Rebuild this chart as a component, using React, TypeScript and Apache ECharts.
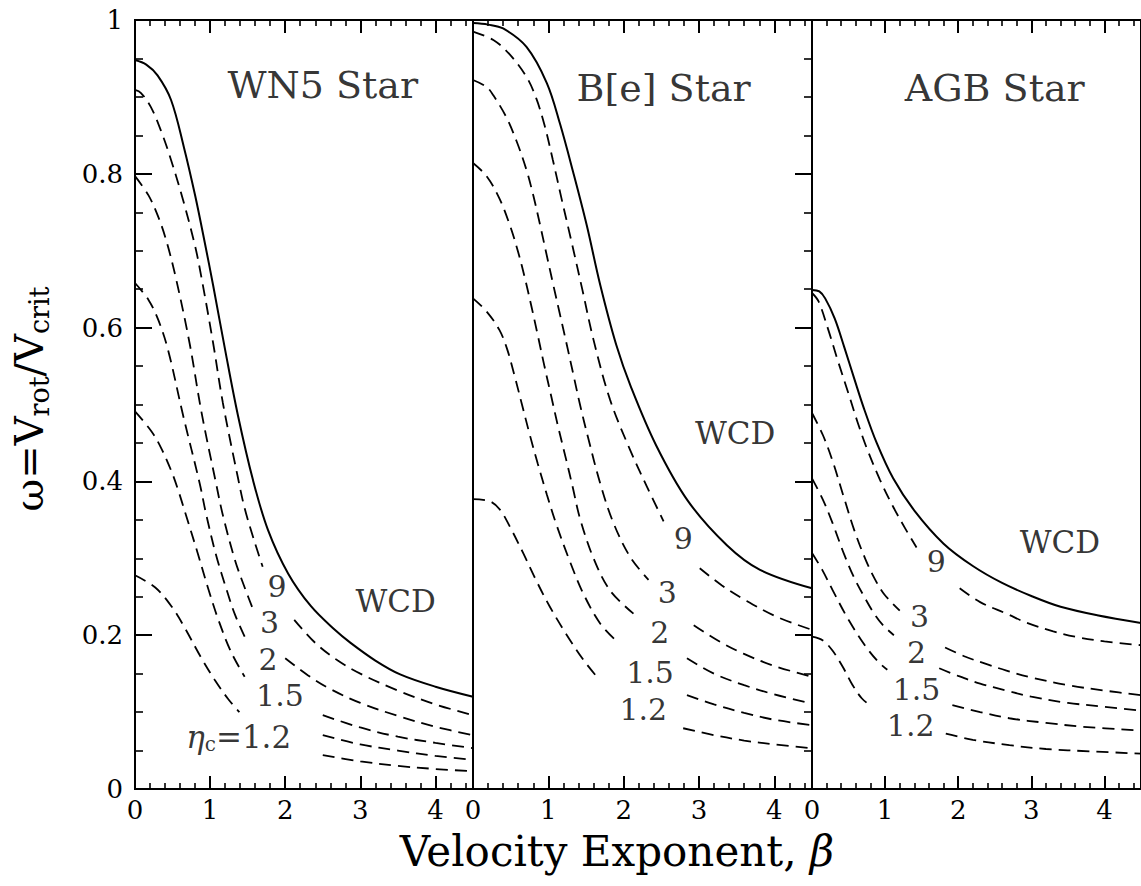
import React, { useEffect, useRef } from "react";
import * as echarts from "echarts";

type Pt = [number, number];

const PANEL_TITLES = ["WN5 Star", "B[e] Star", "AGB Star"];
const ETA_LABELS = ["9", "3", "2", "1.5", "1.2"];
const REGION_LABEL = "WCD";
const X_TICK_LABELS = ["0", "1", "2", "3", "4"];
const Y_TICK_LABELS = ["0", "0.2", "0.4", "0.6", "0.8", "1"];

// ---------- WN5 star ----------
const WN5_WCD: Pt[] = [[0,0.948],[0.15,0.942],[0.3,0.928],[0.48,0.896],[0.65,0.835],[0.8,0.772],[0.93,0.71],[1.04,0.655],[1.2,0.571],[1.37,0.486],[1.57,0.402],[1.77,0.337],[2.04,0.28],[2.34,0.238],[2.66,0.207],[2.87,0.19],[3.2,0.167],[3.53,0.149],[4.0,0.133],[4.5,0.12]];
const WN5_ETA9_A: Pt[] = [[0,0.909],[0.08,0.905],[0.21,0.887],[0.35,0.855],[0.48,0.818],[0.64,0.766],[0.8,0.706],[0.885,0.665],[1.04,0.58],[1.17,0.502],[1.37,0.405],[1.46,0.365],[1.59,0.322],[1.7,0.289]];
const WN5_ETA9_B: Pt[] = [[2.12,0.22],[2.4,0.19],[2.7,0.167],[3.0,0.15],[3.5,0.128],[4.0,0.11],[4.5,0.096]];
const WN5_ETA3_A: Pt[] = [[0,0.797],[0.18,0.772],[0.31,0.744],[0.42,0.712],[0.55,0.662],[0.73,0.578],[0.885,0.49],[1.08,0.397],[1.17,0.356],[1.33,0.298],[1.46,0.262],[1.59,0.229]];
const WN5_ETA3_B: Pt[] = [[2.0,0.17],[2.3,0.148],[2.6,0.13],[3.0,0.112],[3.5,0.095],[4.0,0.081],[4.5,0.07]];
const WN5_ETA2_A: Pt[] = [[0,0.658],[0.18,0.636],[0.31,0.61],[0.44,0.571],[0.64,0.486],[0.86,0.398],[0.95,0.356],[1.08,0.304],[1.22,0.259],[1.33,0.227],[1.46,0.198]];
const WN5_ETA2_B: Pt[] = [[2.5,0.096],[3.0,0.08],[3.5,0.068],[4.0,0.06],[4.5,0.053]];
const WN5_ETA15_A: Pt[] = [[0,0.491],[0.22,0.465],[0.35,0.443],[0.49,0.412],[0.58,0.387],[0.66,0.362],[0.84,0.305],[0.97,0.262],[1.11,0.22],[1.28,0.178],[1.46,0.146]];
const WN5_ETA15_B: Pt[] = [[2.5,0.07],[3.0,0.058],[3.5,0.05],[4.0,0.043],[4.5,0.038]];
const WN5_ETA12_A: Pt[] = [[0,0.278],[0.27,0.262],[0.49,0.237],[0.66,0.21],[0.885,0.17],[1.06,0.142],[1.24,0.117],[1.39,0.10]];
const WN5_ETA12_B: Pt[] = [[2.5,0.044],[3.0,0.036],[3.5,0.03],[4.0,0.026],[4.5,0.023]];

// ---------- B[e] star ----------
const BE_WCD: Pt[] = [[0,0.996],[0.2,0.994],[0.4,0.989],[0.71,0.965],[0.98,0.918],[1.155,0.865],[1.33,0.802],[1.51,0.733],[1.69,0.655],[1.9,0.578],[2.1,0.522],[2.43,0.447],[2.85,0.375],[3.37,0.317],[3.81,0.285],[4.5,0.261]];
const BE_ETA9_A: Pt[] = [[0,0.985],[0.27,0.974],[0.49,0.955],[0.71,0.926],[0.84,0.898],[0.95,0.863],[1.06,0.818],[1.17,0.77],[1.3,0.715],[1.45,0.65],[1.6,0.584],[1.82,0.506],[2.085,0.441],[2.31,0.393],[2.53,0.348]];
const BE_ETA9_B: Pt[] = [[3.01,0.287],[3.3,0.265],[3.59,0.247],[4.03,0.224],[4.5,0.207]];
const BE_ETA3_A: Pt[] = [[0,0.922],[0.18,0.913],[0.27,0.902],[0.44,0.874],[0.58,0.842],[0.71,0.805],[0.8,0.772],[0.885,0.736],[0.97,0.698],[1.06,0.658],[1.15,0.619],[1.24,0.58],[1.33,0.54],[1.42,0.5],[1.53,0.456],[1.69,0.397],[1.86,0.347],[2.085,0.302],[2.33,0.272]];
const BE_ETA3_B: Pt[] = [[2.93,0.213],[3.25,0.193],[3.59,0.176],[4.0,0.16],[4.5,0.146]];
const BE_ETA2_A: Pt[] = [[0,0.814],[0.18,0.797],[0.35,0.768],[0.49,0.733],[0.6,0.698],[0.69,0.664],[0.77,0.63],[0.86,0.59],[0.95,0.549],[1.04,0.51],[1.13,0.471],[1.24,0.427],[1.32,0.394],[1.42,0.352],[1.6,0.3],[1.82,0.258],[2.13,0.228]];
const BE_ETA2_B: Pt[] = [[2.84,0.17],[3.2,0.15],[3.6,0.135],[4.0,0.123],[4.5,0.111]];
const BE_ETA15_A: Pt[] = [[0,0.638],[0.18,0.621],[0.35,0.597],[0.45,0.573],[0.55,0.538],[0.65,0.5],[0.75,0.462],[0.86,0.423],[0.98,0.383],[1.11,0.343],[1.29,0.295],[1.465,0.254],[1.69,0.215],[1.91,0.192]];
const BE_ETA15_B: Pt[] = [[2.84,0.122],[3.2,0.11],[3.6,0.099],[4.0,0.09],[4.5,0.083]];
const BE_ETA12_A: Pt[] = [[0,0.377],[0.226,0.374],[0.36,0.363],[0.49,0.341],[0.67,0.306],[0.85,0.269],[1.02,0.237],[1.24,0.201],[1.465,0.168],[1.66,0.144]];
const BE_ETA12_B: Pt[] = [[2.79,0.079],[3.2,0.07],[3.6,0.063],[4.0,0.058],[4.5,0.053]];

// ---------- AGB star ----------
const AGB_WCD: Pt[] = [[0,0.649],[0.1,0.647],[0.18,0.638],[0.31,0.612],[0.44,0.575],[0.58,0.533],[0.71,0.495],[0.885,0.45],[1.11,0.404],[1.4,0.362],[1.8,0.319],[2.2,0.29],[2.6,0.268],[3.0,0.251],[3.4,0.237],[3.9,0.226],[4.5,0.216]];
const AGB_ETA9_A: Pt[] = [[0,0.645],[0.09,0.634],[0.22,0.598],[0.35,0.558],[0.5,0.514],[0.62,0.478],[0.75,0.443],[0.93,0.402],[1.11,0.367],[1.28,0.338],[1.43,0.314]];
const AGB_ETA9_B: Pt[] = [[2.02,0.261],[2.3,0.243],[2.66,0.228],[2.94,0.216],[3.3,0.205],[3.6,0.198],[4.0,0.192],[4.5,0.187]];
const AGB_ETA3_A: Pt[] = [[0,0.489],[0.15,0.46],[0.28,0.427],[0.44,0.378],[0.58,0.336],[0.73,0.299],[0.86,0.273],[0.99,0.253],[1.2,0.232]];
const AGB_ETA3_B: Pt[] = [[1.82,0.184],[2.1,0.172],[2.4,0.162],[2.66,0.154],[3.0,0.145],[3.5,0.135],[4.0,0.128],[4.5,0.122]];
const AGB_ETA2_A: Pt[] = [[0,0.404],[0.15,0.376],[0.28,0.346],[0.44,0.305],[0.58,0.274],[0.72,0.249],[0.85,0.228],[0.97,0.213],[1.12,0.2]];
const AGB_ETA2_B: Pt[] = [[1.74,0.157],[2.0,0.147],[2.3,0.137],[2.66,0.128],[3.0,0.12],[3.5,0.112],[4.0,0.107],[4.5,0.102]];
const AGB_ETA15_A: Pt[] = [[0,0.307],[0.14,0.285],[0.28,0.259],[0.5,0.22],[0.73,0.186],[0.9,0.166],[1.03,0.155]];
const AGB_ETA15_B: Pt[] = [[1.92,0.109],[2.3,0.1],[2.7,0.092],[3.2,0.086],[3.7,0.081],[4.5,0.076]];
const AGB_ETA12_A: Pt[] = [[0,0.198],[0.15,0.193],[0.28,0.18],[0.42,0.159],[0.55,0.136],[0.68,0.118],[0.82,0.107]];
const AGB_ETA12_B: Pt[] = [[1.83,0.072],[2.2,0.064],[2.7,0.057],[3.2,0.052],[3.8,0.049],[4.5,0.046]];

const PANEL_CURVES = [
  { solid: WN5_WCD, dashed: [[WN5_ETA9_A, WN5_ETA9_B], [WN5_ETA3_A, WN5_ETA3_B], [WN5_ETA2_A, WN5_ETA2_B], [WN5_ETA15_A, WN5_ETA15_B], [WN5_ETA12_A, WN5_ETA12_B]] },
  { solid: BE_WCD, dashed: [[BE_ETA9_A, BE_ETA9_B], [BE_ETA3_A, BE_ETA3_B], [BE_ETA2_A, BE_ETA2_B], [BE_ETA15_A, BE_ETA15_B], [BE_ETA12_A, BE_ETA12_B]] },
  { solid: AGB_WCD, dashed: [[AGB_ETA9_A, AGB_ETA9_B], [AGB_ETA3_A, AGB_ETA3_B], [AGB_ETA2_A, AGB_ETA2_B], [AGB_ETA15_A, AGB_ETA15_B], [AGB_ETA12_A, AGB_ETA12_B]] },
];

// annotation anchors in data coordinates (title, WCD, eta labels 9,3,2,1.5,1.2)
const TITLE_AT: Pt[] = [[2.5, 0.915], [2.53, 0.912], [2.5, 0.912]];
const WCD_AT: Pt[] = [[3.47, 0.245], [3.48, 0.463], [3.39, 0.321]];
const ETA_AT: Pt[][] = [
  [[1.89, 0.263], [1.79, 0.216], [1.77, 0.169], [1.93, 0.122], [1.38, 0.068]],
  [[2.79, 0.326], [2.58, 0.255], [2.48, 0.203], [2.35, 0.152], [2.26, 0.104]],
  [[1.70, 0.296], [1.47, 0.224], [1.43, 0.177], [1.43, 0.130], [1.35, 0.083]],
];

const FONT = "'DejaVu Serif', 'Liberation Serif', serif";
const GRID_LEFT = [135, 473, 812];
const GRID_WIDTH = [338, 339, 339];

function buildOption() {
  const grid = [0, 1, 2].map((i) => ({
    left: GRID_LEFT[i], top: 20, width: GRID_WIDTH[i], height: 769,
    show: true, borderColor: "#000", borderWidth: 2, backgroundColor: "transparent",
  }));

  const xLabelFmt = (v: number) => {
    const k = Math.round(v);
    return Math.abs(v - k) < 1e-6 && k >= 0 && k <= 4 ? X_TICK_LABELS[k] : "";
  };
  const xAxis: any[] = [];
  for (let i = 0; i < 3; i++) {
    for (const pos of ["bottom", "top"]) {
      xAxis.push({
        gridIndex: i, type: "value", min: 0, max: 4.5, interval: 1, position: pos,
        axisLine: { show: false }, splitLine: { show: false },
        axisTick: { show: true, inside: true, length: 13, lineStyle: { color: "#000", width: 2 } },
        axisLabel: pos === "bottom"
          ? { show: true, formatter: xLabelFmt, showMaxLabel: false, margin: 8, color: "#000", fontSize: 26, fontFamily: FONT }
          : { show: false },
      });
      xAxis.push({
        gridIndex: i, type: "value", min: 0, max: 4.5, interval: 0.2, position: pos,
        axisLine: { show: false }, splitLine: { show: false },
        axisTick: { show: true, inside: true, length: 6, lineStyle: { color: "#000", width: 1.6 } },
        axisLabel: { show: false },
      });
    }
  }

  const yLabelFmt = (v: number) => Y_TICK_LABELS[Math.round(v / 0.2)] ?? "";
  const yAxis: any[] = [0, 1, 2].map((i) => ({
    gridIndex: i, type: "value", min: 0, max: 1, interval: 0.2,
    position: i === 2 ? "right" : "left",
    axisLine: { show: false }, splitLine: { show: false }, minorSplitLine: { show: false },
    axisTick: { show: i !== 1, inside: true, length: 17, lineStyle: { color: "#000", width: 2 } },
    minorTick: { show: i !== 1, splitNumber: 4, length: 8, lineStyle: { color: "#000", width: 1.6 } },
    axisLabel: i === 0
      ? { show: true, formatter: yLabelFmt, margin: 12, color: "#000", fontSize: 26, fontFamily: FONT }
      : { show: false },
  }));

  const series: any[] = [];
  PANEL_CURVES.forEach((p, i) => {
    const axes = { xAxisIndex: i * 4, yAxisIndex: i };
    series.push({
      type: "line", ...axes, data: p.solid, symbol: "none", smooth: 0.35,
      lineStyle: { color: "#000", width: 2 }, silent: true, z: 3,
    });
    p.dashed.forEach((pair) => {
      pair.forEach((seg) => {
        series.push({
          type: "line", ...axes, data: seg, symbol: "none", smooth: 0.35,
          lineStyle: { color: "#000", width: 1.8, type: [12, 7] }, silent: true, z: 3,
        });
      });
    });
    const labels: any[] = [];
    labels.push({ value: TITLE_AT[i], label: { formatter: PANEL_TITLES[i], fontSize: 38, color: "#000" } });
    labels.push({ value: WCD_AT[i], label: { formatter: REGION_LABEL, fontSize: 31, color: "#000" } });
    ETA_AT[i].forEach((pt, k) => {
      const txt = i === 0 && k === 4 ? `{i|η}{s|c}{n|=${ETA_LABELS[k]}}` : ETA_LABELS[k];
      labels.push({ value: pt, label: { formatter: txt, fontSize: 30, lineHeight: 30, color: "#000" } });
    });
    series.push({
      type: "scatter", ...axes, data: labels, symbolSize: 1, silent: true, z: 5,
      itemStyle: { color: "rgba(0,0,0,0)" },
      label: {
        show: true, position: "inside", color: "#000", fontFamily: FONT,
        rich: {
          i: { fontStyle: "italic", fontSize: 31, fontFamily: FONT, lineHeight: 34, color: "#000" },
          s: { fontSize: 20, fontFamily: FONT, verticalAlign: "bottom", lineHeight: 20, color: "#000" },
          n: { fontSize: 31, fontFamily: FONT, lineHeight: 34, color: "#000" },
        },
      },
    });
  });

  const graphic = [
    {
      type: "text", x: 617, y: 851, silent: true,
      style: {
        text: "{n|Velocity Exponent, }{i|β}", align: "center", verticalAlign: "middle",
        rich: {
          n: { fontSize: 42, fontFamily: FONT, fill: "#000", lineHeight: 48 },
          i: { fontSize: 42, fontFamily: FONT, fontStyle: "italic", fill: "#000", lineHeight: 48 },
        },
      },
    },
    {
      type: "text", x: 29, y: 399, rotation: Math.PI / 2, silent: true,
      style: {
        text: "{m|ω=V}{s|rot}{m|/V}{s|crit}", align: "center", verticalAlign: "middle",
        rich: {
          m: { fontSize: 40, fontFamily: FONT, fill: "#000", lineHeight: 48 },
          s: { fontSize: 27, fontFamily: FONT, fill: "#000", lineHeight: 27, verticalAlign: "bottom" },
        },
      },
    },
  ];

  return { animation: false, backgroundColor: "#fff", grid, xAxis, yAxis, series, graphic };
}

export default function App() {
  const ref = useRef<HTMLDivElement>(null);
  useEffect(() => {
    document.body.style.margin = "0";
    if (!ref.current) return;
    const chart = echarts.init(ref.current, undefined, { renderer: "svg" });
    chart.setOption(buildOption() as any);
    return () => chart.dispose();
  }, []);
  return <div ref={ref} style={{ width: 1141, height: 886 }} />;
}
